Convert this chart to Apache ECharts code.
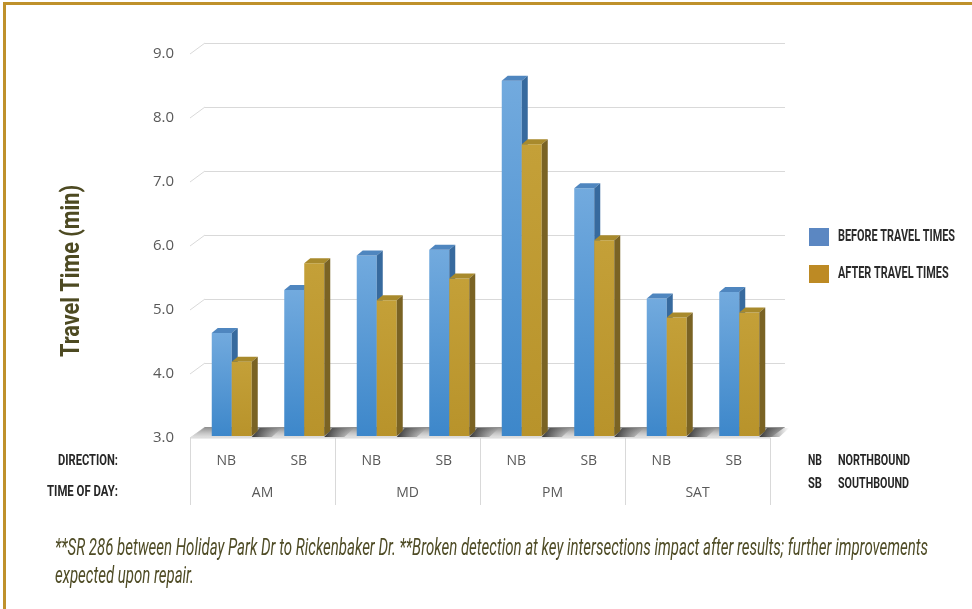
<!DOCTYPE html>
<html>
<head>
<meta charset="utf-8">
<script src="https://cdn.jsdelivr.net/npm/echarts@6/dist/echarts.min.js"></script>
<style>
  html, body { margin: 0; padding: 0; background: #fff; }
  #frame { position: absolute; left: 3px; top: 2px; width: 969px; height: 607px;
           border-top: 3px solid #bf912b; border-left: 3px solid #bf912b; box-sizing: border-box; }
  #chart { position: absolute; left: 0; top: 0; width: 972px; height: 609px; }
</style>
</head>
<body>
<div id="frame"></div>
<div id="chart"></div>
<script>
// Travel time per direction / time of day, before and after signal retiming
const directions = ['NB', 'SB', 'NB', 'SB', 'NB', 'SB', 'NB', 'SB'];
const periods = ['AM', 'MD', 'PM', 'SAT'];
const beforeTimes = [4.61, 5.28, 5.82, 5.91, 8.55, 6.87, 5.15, 5.25];
const afterTimes  = [4.16, 5.70, 5.12, 5.46, 7.56, 6.06, 4.85, 4.93];
const yMin = 3, yMax = 9, yStep = 1;
const yTickValues = [3, 4, 5, 6, 7, 8, 9];
const seriesNames = ['BEFORE TRAVEL TIMES', 'AFTER TRAVEL TIMES'];
const directionKey = [['NB', 'NORTHBOUND'], ['SB', 'SOUTHBOUND']];
const rowTitles = ['DIRECTION:', 'TIME OF DAY:'];
const axisTitle = 'Travel Time (min)';
const footnote = [
  '**SR 286 between Holiday Park Dr to Rickenbaker Dr. **Broken detection at key intersections impact after results; further improvements',
  'expected upon repair.'
];

// depth offset of the back wall and of the bar boxes
const WALL = [15, -11];
const DEPTH = [6, -5];
const BAR_W = 20;

const chart = echarts.init(document.getElementById('chart'), null, { renderer: 'canvas' });

const measureCtx = document.createElement('canvas').getContext('2d');
function fitScale(text, font, width) {
  measureCtx.font = font;
  return width / measureCtx.measureText(text).width;
}
function squeezedText(text, font, width, x, y, fill, opts) {
  opts = opts || {};
  const sx = fitScale(text, font, width);
  return {
    type: 'text', x: x, y: y, scaleX: sx, rotation: opts.rotation || 0, silent: true,
    style: { text: text, font: font, fill: fill, align: opts.align || 'left', verticalAlign: 'middle' }
  };
}

const blueFront = new echarts.graphic.LinearGradient(0, 0, 0, 1, [
  { offset: 0, color: '#72aade' }, { offset: 1, color: '#3d87ca' }]);
const goldFront = new echarts.graphic.LinearGradient(0, 0, 0, 1, [
  { offset: 0, color: '#c4a038' }, { offset: 1, color: '#b8932b' }]);
const palette = [
  { front: blueFront, top: '#4f86bf', side: '#376a9e', offset: -14.5 },
  { front: goldFront, top: '#a88a2c', side: '#7a6324', offset: 5.5 }
];

function boxRenderer(k) {
  const c = palette[k];
  return function (params, api) {
    const idx = api.value(0);
    const v = api.value(1);
    const topPt = api.coord([idx, v]);
    const basePt = api.coord([idx, yMin]);
    const left = topPt[0] + c.offset;
    const yTop = topPt[1] - 2;
    const yBot = basePt[1] - 2;
    const dx = DEPTH[0], dy = DEPTH[1];
    return {
      type: 'group',
      children: [
        { type: 'rect', shape: { x: left, y: yTop, width: BAR_W, height: yBot - yTop },
          style: { fill: c.front } },
        { type: 'polygon', shape: { points: [[left, yTop], [left + BAR_W, yTop],
            [left + BAR_W + dx, yTop + dy], [left + dx, yTop + dy]] },
          style: { fill: c.top } },
        { type: 'polygon', shape: { points: [[left + BAR_W, yTop], [left + BAR_W + dx, yTop + dy],
            [left + BAR_W + dx, yBot + dy], [left + BAR_W, yBot]] },
          style: { fill: c.side } }
      ]
    };
  };
}

function floorRenderer(params, api) {
  const cs = params.coordSys;
  const idx = api.value(0);
  const cx = api.coord([idx, yMin])[0];
  const yF = cs.y + cs.height;
  const children = [];
  if (params.dataIndex === 0) {
    children.push({
      type: 'polygon',
      shape: { points: [[cs.x, yF], [cs.x + cs.width, yF],
        [cs.x + cs.width + WALL[0], yF + WALL[1]], [cs.x + WALL[0], yF + WALL[1]]] },
      style: { fill: new echarts.graphic.LinearGradient(0, 0, 0, 1, [
        { offset: 0, color: '#8c8c8c' }, { offset: 0.55, color: '#c4c4c4' }, { offset: 1, color: '#e6e6e6' }]) }
    });
    children.push({ type: 'line', shape: { x1: cs.x, y1: yF, x2: cs.x + cs.width, y2: yF },
      style: { stroke: '#d9d9d9', lineWidth: 1 } });
  }
  // shadow cast to the right of each bar pair
  const sx = cx + 5.5 + BAR_W;
  children.push({
    type: 'polygon',
    shape: { points: [[sx, yF - 1], [sx + 20, yF - 1], [sx + 30, yF - 10], [sx + 8, yF - 10]] },
    style: { fill: new echarts.graphic.LinearGradient(0, 0, 1, 0, [
      { offset: 0, color: 'rgba(45,45,45,0.95)' }, { offset: 1, color: 'rgba(80,80,80,0)' }]) }
  });
  return { type: 'group', children: children };
}

function wallTickRenderer(params, api) {
  const cs = params.coordSys;
  const y = api.coord([0, api.value(1)])[1];
  return { type: 'line', shape: { x1: cs.x, y1: y, x2: cs.x + WALL[0], y2: y + WALL[1] },
    style: { stroke: '#d9d9d9', lineWidth: 1 } };
}

const labelFont = { fontFamily: '"Open Sans", sans-serif', fontSize: 14, color: '#595959' };

const graphics = [];
// rotated axis title
graphics.push(squeezedText(axisTitle, 'bold 25px Roboto', 172, 73, 271, '#4d4a22',
  { align: 'center', rotation: Math.PI / 2 }));
// row titles of the category table
const keyFont = 'bold 15px Roboto';
graphics.push(squeezedText(rowTitles[0], keyFont, 60, 118, 461, '#262626', { align: 'right' }));
graphics.push(squeezedText(rowTitles[1], keyFont, 71, 118, 492, '#262626', { align: 'right' }));
// direction key
graphics.push(squeezedText(directionKey[0][0], keyFont, 14, 808, 461, '#262626'));
graphics.push(squeezedText(directionKey[0][1], keyFont, 72, 838, 461, '#262626'));
graphics.push(squeezedText(directionKey[1][0], keyFont, 14, 808, 484, '#262626'));
graphics.push(squeezedText(directionKey[1][1], keyFont, 71, 838, 484, '#262626'));
// legend
const legendSwatch = ['#5b87c2', '#bd8a24'];
const legendY = [237, 274];
const legendFont = 'bold 17px Roboto';
const legendScale = fitScale(seriesNames[0], legendFont, 117);
seriesNames.forEach(function (name, i) {
  graphics.push({ type: 'rect', shape: { x: 809, y: legendY[i] - 9, width: 20, height: 18 },
    style: { fill: legendSwatch[i] }, silent: true });
  graphics.push({ type: 'text', x: 838, y: legendY[i], scaleX: legendScale, silent: true,
    style: { text: name, font: legendFont, fill: '#2b2b2b', align: 'left', verticalAlign: 'middle' } });
});
// footnote
const noteFont = 'italic 23px Roboto';
const noteScale = fitScale(footnote[0], noteFont, 873);
footnote.forEach(function (line, i) {
  graphics.push({ type: 'text', x: 55, y: 549 + i * 28, scaleX: noteScale, silent: true,
    style: { text: line, font: noteFont, fill: '#4f4c26', align: 'left', verticalAlign: 'middle' } });
});

const option = {
  animation: false,
  backgroundColor: 'transparent',
  grid: [
    { left: 190, top: 54, width: 580, height: 384 },
    { left: 190 + WALL[0], top: 54 + WALL[1], width: 580, height: 384 }
  ],
  xAxis: [
    { type: 'category', gridIndex: 0, data: directions, position: 'bottom',
      axisLine: { show: false }, axisTick: { show: false },
      axisLabel: Object.assign({ margin: 16, interval: 0 }, labelFont) },
    { type: 'category', gridIndex: 0, data: periods, position: 'bottom',
      axisLine: { show: false },
      axisTick: { show: true, length: 67, interval: 0, lineStyle: { color: '#d9d9d9' } },
      axisLabel: Object.assign({ margin: 48, interval: 0 }, labelFont) },
    { type: 'category', gridIndex: 1, data: directions, show: false }
  ],
  yAxis: [
    { type: 'value', gridIndex: 0, min: yMin, max: yMax, interval: yStep,
      axisLine: { show: false }, axisTick: { show: false }, splitLine: { show: false },
      axisLabel: Object.assign({ margin: 16, formatter: function (v) { return v.toFixed(1); } },
        { fontFamily: '"Open Sans", sans-serif', fontSize: 15, color: '#595959' }) },
    { type: 'value', gridIndex: 1, min: yMin, max: yMax, interval: yStep,
      axisLine: { show: false }, axisTick: { show: false }, axisLabel: { show: false },
      splitLine: { show: true, lineStyle: { color: '#d9d9d9', width: 1 } } }
  ],
  series: [
    { type: 'custom', name: 'wall ticks', xAxisIndex: 0, yAxisIndex: 0, silent: true,
      renderItem: wallTickRenderer, data: yTickValues.map(function (v) { return [0, v]; }) },
    { type: 'custom', name: 'floor', xAxisIndex: 0, yAxisIndex: 0, silent: true,
      renderItem: floorRenderer, data: directions.map(function (d, i) { return [i, yMin]; }) },
    { type: 'custom', name: seriesNames[0], xAxisIndex: 0, yAxisIndex: 0,
      renderItem: boxRenderer(0), encode: { x: 0, y: 1 },
      data: beforeTimes.map(function (v, i) { return [i, v]; }) },
    { type: 'custom', name: seriesNames[1], xAxisIndex: 0, yAxisIndex: 0,
      renderItem: boxRenderer(1), encode: { x: 0, y: 1 },
      data: afterTimes.map(function (v, i) { return [i, v]; }) }
  ],
  graphic: graphics
};
chart.setOption(option);
</script>
</body>
</html>
